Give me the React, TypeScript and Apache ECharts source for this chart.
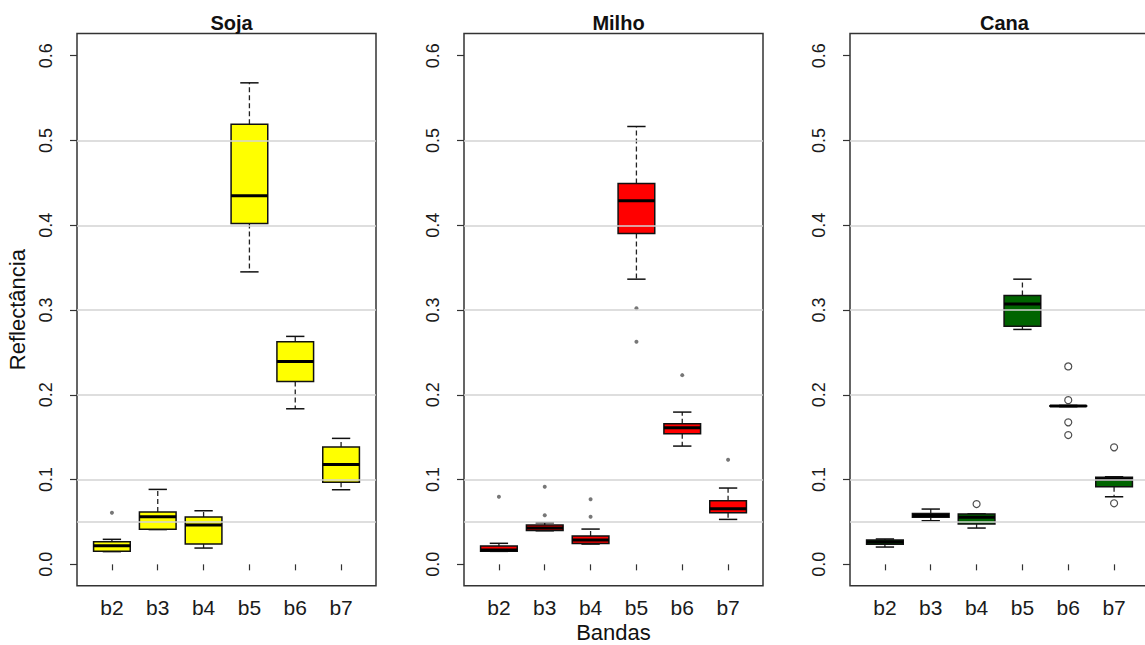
import React, { useEffect, useRef } from 'react';
import * as echarts from 'echarts';

const bands = ['b2', 'b3', 'b4', 'b5', 'b6', 'b7'];
const panelTitles = ['Soja', 'Milho', 'Cana'];
const yTickValues = [0, 0.1, 0.2, 0.3, 0.4, 0.5, 0.6];
const gridLineValues = [0.05, 0.1, 0.2, 0.3, 0.4, 0.5];

// [lower whisker, Q1, median, Q3, upper whisker] per band
const sojaStats = [
  [0.015, 0.0155, 0.022, 0.0267, 0.0295],
  [0.041, 0.0413, 0.0562, 0.0617, 0.0884],
  [0.0192, 0.0239, 0.0463, 0.0558, 0.0632],
  [0.345, 0.402, 0.4347, 0.519, 0.568],
  [0.1835, 0.2158, 0.2394, 0.2625, 0.2689],
  [0.088, 0.0967, 0.1179, 0.1383, 0.1486],
];
const milhoStats = [
  [0.0153, 0.0153, 0.017, 0.0216, 0.0248],
  [0.0396, 0.0398, 0.043, 0.0463, 0.049],
  [0.0239, 0.0245, 0.0287, 0.0334, 0.0416],
  [0.3364, 0.3903, 0.4288, 0.4493, 0.5165],
  [0.1395, 0.154, 0.1611, 0.1658, 0.1796],
  [0.053, 0.0609, 0.0656, 0.075, 0.09],
];
const canaStats = [
  [0.0204, 0.0236, 0.0263, 0.0287, 0.0299],
  [0.0514, 0.0554, 0.0577, 0.0601, 0.0652],
  [0.0428, 0.0475, 0.0555, 0.0593, 0.0595],
  [0.2771, 0.281, 0.307, 0.3172, 0.3364],
  [0.186, 0.1865, 0.1868, 0.1872, 0.1875],
  [0.0797, 0.0915, 0.1005, 0.1027, 0.1033],
];

// [band index, value]
const sojaOutliers = [[0, 0.0609]];
const milhoOutliers = [
  [0, 0.0797], [1, 0.0578], [1, 0.0915], [2, 0.0561], [2, 0.0767],
  [3, 0.302], [3, 0.2625], [4, 0.2232], [5, 0.1234],
];
const canaOutliers = [
  [2, 0.0711], [4, 0.2335], [4, 0.1937], [4, 0.1675], [4, 0.1525], [5, 0.138], [5, 0.072],
];

const fillColors = ['#FFFF00', '#FF0000', '#006400'];

const Y_MIN = -0.0252;
const Y_MAX = 0.6262;
const FRAME_LEFT = [77, 464, 850];
const FRAME_TOP = 33.5;
const FRAME_H = 552.2;
const FRAME_W = 299;
const PAD = (0.26 / 6.48) * FRAME_W;
const FONT = 'Liberation Sans, Arial, sans-serif';

const makeRenderBox = (fill: string) => (params: any, api: any) => {
  const k = api.value(0);
  const pMin = api.coord([k, api.value(1)]);
  const pQ1 = api.coord([k, api.value(2)]);
  const pMed = api.coord([k, api.value(3)]);
  const pQ3 = api.coord([k, api.value(4)]);
  const pMax = api.coord([k, api.value(5)]);
  const band = api.size([1, 0])[0];
  const cx = pMed[0];
  const bw = band * 0.8;
  const sw = bw * 0.5;
  const dash = { stroke: '#222', lineWidth: 1.3, lineDash: [5, 3] };
  const solid = { stroke: '#111', lineWidth: 1.5 };
  return {
    type: 'group',
    children: [
      { type: 'line', shape: { x1: cx, y1: pQ3[1], x2: cx, y2: pMax[1] }, style: dash },
      { type: 'line', shape: { x1: cx, y1: pQ1[1], x2: cx, y2: pMin[1] }, style: dash },
      { type: 'line', shape: { x1: cx - sw / 2, y1: pMax[1], x2: cx + sw / 2, y2: pMax[1] }, style: solid },
      { type: 'line', shape: { x1: cx - sw / 2, y1: pMin[1], x2: cx + sw / 2, y2: pMin[1] }, style: solid },
      {
        type: 'rect',
        shape: { x: cx - bw / 2, y: pQ3[1], width: bw, height: pQ1[1] - pQ3[1] },
        style: { fill, stroke: '#111', lineWidth: 1.5 },
      },
      { type: 'line', shape: { x1: cx - bw / 2, y1: pMed[1], x2: cx + bw / 2, y2: pMed[1] }, style: { stroke: '#000', lineWidth: 3 } },
    ],
  };
};

export default function App() {
  const ref = useRef<HTMLDivElement>(null);
  useEffect(() => {
    if (!ref.current) return;
    const chart = echarts.init(ref.current, undefined, { renderer: 'svg' });
    const statsList = [sojaStats, milhoStats, canaStats];
    const outlierList = [sojaOutliers, milhoOutliers, canaOutliers];

    const grids: any[] = [];
    const xAxes: any[] = [];
    const yAxes: any[] = [];
    const series: any[] = [];
    const titles: any[] = [];

    for (let i = 0; i < 3; i++) {
      const L = FRAME_LEFT[i];
      titles.push({
        text: panelTitles[i],
        left: L + FRAME_W / 2,
        top: 8,
        textAlign: 'center',
        textStyle: { fontSize: 20, fontWeight: 'bold', color: '#111', fontFamily: FONT },
      });
      grids.push({
        left: L, top: FRAME_TOP, width: FRAME_W, height: FRAME_H,
        outerBoundsMode: 'none', containLabel: false,
        show: true, borderColor: '#333', borderWidth: 1.5, backgroundColor: 'transparent',
      });
      grids.push({
        left: L + PAD, top: FRAME_TOP, width: FRAME_W - 2 * PAD, height: FRAME_H,
        outerBoundsMode: 'none', containLabel: false,
      });

      xAxes.push({ gridIndex: 2 * i, type: 'value', min: 0, max: 1, show: false });
      xAxes.push({
        gridIndex: 2 * i + 1,
        type: 'category',
        data: bands,
        axisLine: { show: false },
        axisTick: { show: true, alignWithLabel: true, interval: 0, length: 6, lineStyle: { color: '#333', width: 1.2 } },
        axisLabel: { interval: 0, fontSize: 21, color: '#1a1a1a', margin: 11, fontFamily: FONT },
        splitLine: { show: false },
        name: i === 1 ? 'Bandas' : '',
        nameLocation: 'middle',
        nameGap: 36,
        nameMoveOverlap: false,
        nameTextStyle: { fontSize: 22, color: '#111', fontFamily: FONT },
      });

      yAxes.push({
        gridIndex: 2 * i,
        type: 'value',
        min: Y_MIN,
        max: Y_MAX,
        axisLine: { show: false },
        axisTick: { show: true, customValues: yTickValues, length: 7, lineStyle: { color: '#333', width: 1.2 } },
        axisLabel: {
          customValues: yTickValues,
          rotate: 90,
          margin: 22,
          fontSize: 18,
          color: '#1a1a1a',
          fontFamily: FONT,
          formatter: (v: number) => v.toFixed(1),
        },
        splitLine: { show: false },
        name: i === 0 ? 'Reflectância' : '',
        nameLocation: 'middle',
        nameGap: 49,
        nameMoveOverlap: false,
        nameTextStyle: { fontSize: 22, color: '#111', fontFamily: FONT },
      });
      yAxes.push({ gridIndex: 2 * i + 1, type: 'value', min: Y_MIN, max: Y_MAX, show: false });

      series.push({
        type: 'line',
        xAxisIndex: 2 * i,
        yAxisIndex: 2 * i,
        data: [],
        silent: true,
        z: 1,
        markLine: {
          silent: true,
          symbol: ['none', 'none'],
          label: { show: false },
          lineStyle: { color: '#d3d3d3', width: 1.6, type: 'solid' },
          emphasis: { disabled: true },
          data: gridLineValues.map((v) => ({ yAxis: v })),
        },
      });
      series.push({
        type: 'custom',
        xAxisIndex: 2 * i + 1,
        yAxisIndex: 2 * i + 1,
        z: 3,
        silent: true,
        clip: false,
        data: statsList[i].map((s, k) => [k, ...s]),
        renderItem: makeRenderBox(fillColors[i]),
      });
      const isCana = i === 2;
      series.push({
        type: 'scatter',
        xAxisIndex: 2 * i + 1,
        yAxisIndex: 2 * i + 1,
        z: 4,
        silent: true,
        symbol: 'circle',
        symbolSize: isCana ? 7 : 4,
        itemStyle: isCana
          ? { color: '#fff', borderColor: '#222', borderWidth: 1.2 }
          : { color: '#555' },
        data: outlierList[i],
      });
    }

    chart.setOption({
      animation: false,
      backgroundColor: '#fff',
      title: titles,
      grid: grids,
      xAxis: xAxes,
      yAxis: yAxes,
      series,
    });
    return () => chart.dispose();
  }, []);
  return (
    <div
      ref={ref}
      style={{ position: 'absolute', left: 0, top: 0, width: 1145, height: 645 }}
    />
  );
}
